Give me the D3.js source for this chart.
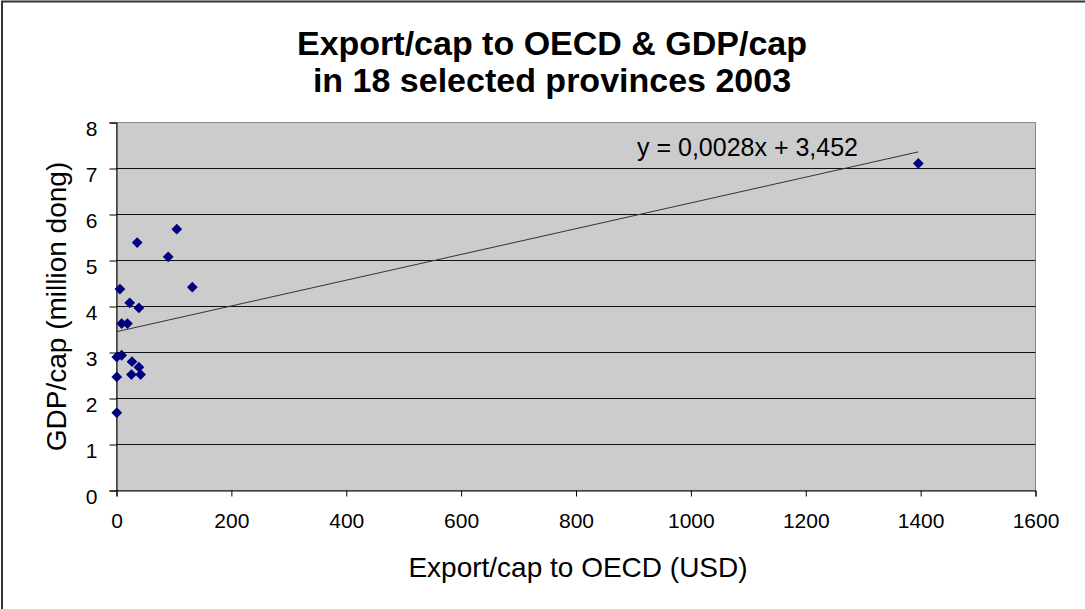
<!DOCTYPE html>
<html>
<head>
<meta charset="utf-8">
<script src="https://cdn.jsdelivr.net/npm/d3@7"></script>
<style>
  html, body { margin: 0; padding: 0; background: #fff; }
  svg { display: block; font-family: "Liberation Sans", Arial, sans-serif; }
</style>
</head>
<body>
<svg id="chart" width="1085" height="609"></svg>
<script>
// Export per capita to OECD (USD) and GDP per capita (million dong), 2003
const exportPerCap = [105, 36, 90, 132, 6, 23, 39, 9, 19, 0.5, 9, 27, 39, 26, 42, 0.5, 0.5, 1396];
const gdpPerCap    = [5.68, 5.39, 5.08, 4.42, 4.38, 4.08, 3.97, 3.63, 3.63, 2.90, 2.94, 2.80, 2.68, 2.52, 2.52, 2.47, 1.69, 7.11];

// Linear trend line coefficients
const slope = 0.0028;
const intercept = 3.452;
const trendLabel = "y = 0,0028x + 3,452";

const xTicks = [0, 200, 400, 600, 800, 1000, 1200, 1400, 1600];
const yTicks = [0, 1, 2, 3, 4, 5, 6, 7, 8];

const titleLines = ["Export/cap to OECD & GDP/cap", "in 18 selected provinces 2003"];
const xTitle = "Export/cap to OECD (USD)";
const yTitle = "GDP/cap (million dong)";

const svg = d3.select("#chart");
const plot = { left: 116.5, right: 1035.5, top: 122.5, bottom: 490.5 };

const x = d3.scaleLinear().domain([0, 1600]).range([plot.left, plot.right]);
const y = d3.scaleLinear().domain([0, 8]).range([plot.bottom, plot.top]);

// Outer frame (left and top edges)
svg.append("path")
  .attr("d", "M2,609 V1.5 H1085")
  .attr("fill", "none")
  .attr("stroke", "#333")
  .attr("stroke-width", 2);

// Plot background
svg.append("rect")
  .attr("x", plot.left).attr("y", plot.top)
  .attr("width", plot.right - plot.left).attr("height", plot.bottom - plot.top)
  .attr("fill", "#cccccc")
  .attr("stroke", "#888").attr("stroke-width", 1);

// Horizontal gridlines
svg.append("g")
  .selectAll("line")
  .data(yTicks.filter(v => v > 0 && v < 8))
  .join("line")
  .attr("x1", plot.left).attr("x2", plot.right)
  .attr("y1", d => y(d)).attr("y2", d => y(d))
  .attr("stroke", "#111").attr("stroke-width", 1.2);

// Axes
const xAxis = svg.append("g")
  .attr("transform", `translate(0,${plot.bottom})`)
  .call(d3.axisBottom(x).tickValues(xTicks).tickSize(6).tickPadding(14).tickFormat(d3.format("d")));
const yAxis = svg.append("g")
  .attr("transform", `translate(${plot.left},0)`)
  .call(d3.axisLeft(y).tickValues(yTicks).tickSize(7).tickPadding(12).tickFormat(d3.format("d")));

[xAxis, yAxis].forEach(g => {
  g.select(".domain").attr("stroke", "#000").attr("stroke-width", 1);
  g.selectAll(".tick line").attr("stroke", "#000");
  g.selectAll(".tick text")
    .attr("fill", "#000")
    .style("font-family", "'Liberation Sans', Arial, sans-serif")
    .style("font-size", "21px");
});
yAxis.selectAll(".tick text").attr("dy", "0.6em");
xAxis.selectAll(".tick text").attr("dy", "0.85em");

// Trend line across the data's x range
const xExtent = d3.extent(exportPerCap);
svg.append("line")
  .attr("x1", x(xExtent[0])).attr("y1", y(intercept + slope * xExtent[0]))
  .attr("x2", x(xExtent[1])).attr("y2", y(intercept + slope * xExtent[1]))
  .attr("stroke", "#333").attr("stroke-width", 1);

// Points
const diamond = d3.symbol().type(d3.symbolSquare).size(58);
svg.append("g")
  .selectAll("path")
  .data(exportPerCap.map((v, i) => [v, gdpPerCap[i]]))
  .join("path")
  .attr("d", diamond)
  .attr("transform", d => `translate(${x(d[0])},${y(d[1])}) rotate(45)`)
  .attr("fill", "#000080");

// Trend equation
svg.append("text")
  .attr("x", 637).attr("y", 156)
  .attr("font-size", 25)
  .attr("fill", "#000")
  .text(trendLabel);

// Titles
svg.append("g")
  .selectAll("text")
  .data(titleLines)
  .join("text")
  .attr("x", 552).attr("y", (d, i) => 55 + i * 37)
  .attr("text-anchor", "middle")
  .attr("font-size", 34)
  .attr("font-weight", "bold")
  .attr("fill", "#000")
  .text(d => d);

svg.append("text")
  .attr("x", (plot.left + plot.right) / 2 + 2).attr("y", 577)
  .attr("text-anchor", "middle")
  .attr("font-size", 28)
  .attr("fill", "#000")
  .text(xTitle);

svg.append("text")
  .attr("transform", `translate(66,${(plot.top + plot.bottom) / 2}) rotate(-90)`)
  .attr("text-anchor", "middle")
  .attr("font-size", 28)
  .attr("fill", "#000")
  .text(yTitle);
</script>
</body>
</html>
